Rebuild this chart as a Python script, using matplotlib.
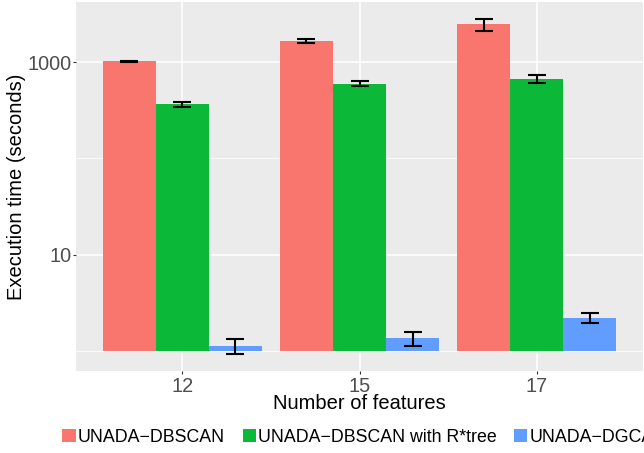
import numpy as np
import matplotlib
matplotlib.use('Agg')
import matplotlib.pyplot as plt
from matplotlib.patches import Patch

plt.rcParams['font.family'] = ['Liberation Sans', 'DejaVu Sans']

# values (seconds, log scale)
features = ['12', '15', '17']
series = ['UNADA\u2212DBSCAN', 'UNADA\u2212DBSCAN with R*tree', 'UNADA\u2212DGCA']
dbscan = [1014, 1655, 2466]
dbscan_lo = [990, 1578, 2102]
dbscan_hi = [1030, 1725, 2820]
rtree = [365, 597, 663]
rtree_lo = [342, 565, 603]
rtree_hi = [383, 632, 734]
dgca = [1.135, 1.36, 2.23]
dgca_lo = [0.94, 1.14, 1.98]
dgca_hi = [1.34, 1.585, 2.5]

colors = ['#F8766D', '#0CB838', '#619CFF']
grey_txt = '#4D4D4D'

W, H = 644, 453
fig = plt.figure(figsize=(W / 100, H / 100), dpi=100)
ax = fig.add_axes([76 / W, (H - 370.7) / H, (643 - 76) / W, (370.7 - 2) / H])
ax.set_facecolor('#EBEBEB')

x = np.arange(len(features))
width = 0.3
data = [(dbscan, dbscan_lo, dbscan_hi), (rtree, rtree_lo, rtree_hi), (dgca, dgca_lo, dgca_hi)]

ax.set_yscale('log')
for i, (vals, lo, hi) in enumerate(data):
    xi = x + (i - 1) * width
    vals = np.array(vals)
    ax.bar(xi, vals - 1, bottom=1, width=width, color=colors[i], zorder=2)
    ax.errorbar(xi, vals, yerr=[vals - np.array(lo), np.array(hi) - vals],
                fmt='none', ecolor='black', elinewidth=1.5, capsize=6.4,
                capthick=1.5, zorder=3)

ax.set_xlim(-0.6, 2.6)
ax.set_ylim(10 ** -0.201, 10 ** 3.623)
ax.set_xticks(x)
ax.set_xticklabels(features)
ax.set_yticks([10, 1000])
ax.set_yticklabels(['10', '1000'])
ax.yaxis.set_minor_locator(matplotlib.ticker.FixedLocator([1, 100]))
ax.yaxis.set_minor_formatter(matplotlib.ticker.NullFormatter())

ax.grid(True, which='major', color='white', linewidth=1.1, zorder=0)
ax.grid(True, which='minor', axis='y', color='white', linewidth=0.55, zorder=0)
ax.set_axisbelow(True)
ax.tick_params(which='minor', length=0)
ax.tick_params(which='major', length=2.2, width=0.8, color='#333333',
               labelsize=14.3, labelcolor=grey_txt, pad=0.8)
ax.tick_params(axis='x', pad=2)
for s in ax.spines.values():
    s.set_visible(False)

ax.set_xlabel('Number of features', fontsize=14.5, labelpad=-1)
ax.set_ylabel('Execution time (seconds)', fontsize=14.5, labelpad=1.5)

# legend centred under the panel; the right end runs past the edge like the original
handles = [Patch(facecolor=c, edgecolor='none') for c in colors]
fig.legend(handles, series, loc='center', bbox_to_anchor=(358 / W, (H - 437.5) / H),
           ncol=3, frameon=False, fontsize=12.8, handlelength=0.75, handleheight=0.75,
           handletextpad=0.1, columnspacing=1.0, borderpad=0)

fig.savefig('out.png', dpi=100)
